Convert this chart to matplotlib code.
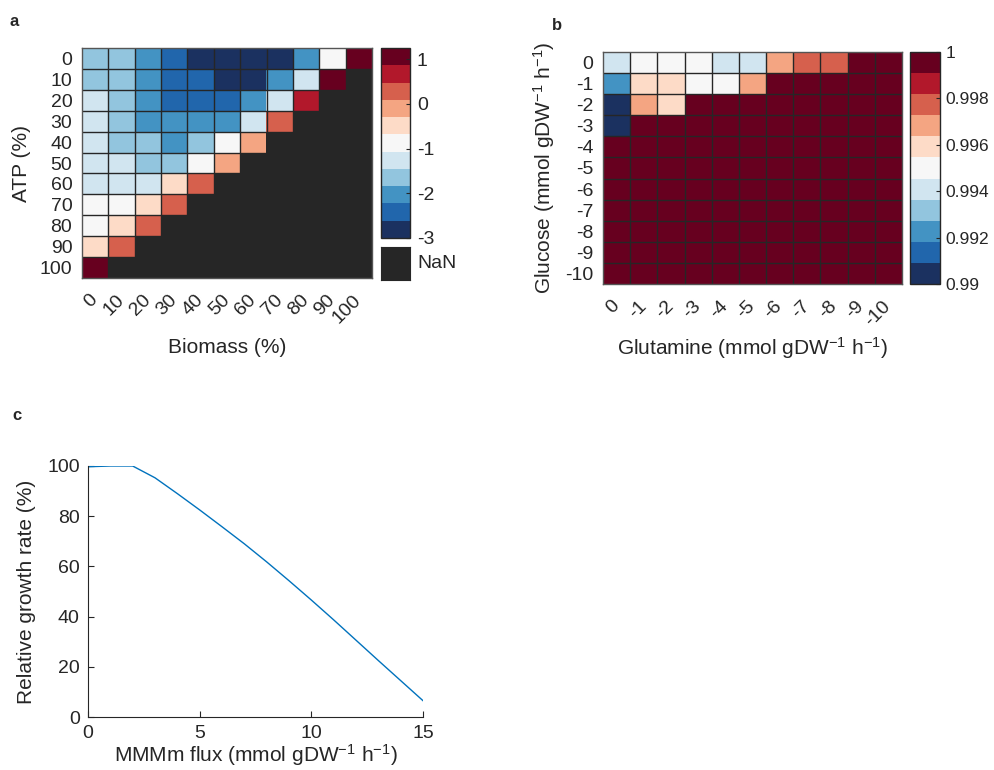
import numpy as np
import matplotlib
matplotlib.use("Agg")
import matplotlib.pyplot as plt
from matplotlib.colors import ListedColormap, Normalize
from matplotlib.cm import ScalarMappable

plt.rcParams['font.family'] = ['Liberation Sans', 'DejaVu Sans']
plt.rcParams['mathtext.fontset'] = 'custom'
plt.rcParams['mathtext.rm'] = 'Liberation Sans'
plt.rcParams['mathtext.it'] = 'Liberation Sans:italic'
plt.rcParams['axes.unicode_minus'] = False

TXT = '#262626'

# ---------------- data ----------------
# Panel a: ATP (rows) x Biomass (cols), NaN where infeasible
biomass_labels = ['0', '10', '20', '30', '40', '50', '60', '70', '80', '90', '100']
atp_labels = ['0', '10', '20', '30', '40', '50', '60', '70', '80', '90', '100']
nan = np.nan
atp_biomass = [
    [-1.6, -1.7, -2.1, -2.4, -2.8, -2.9, -2.9, -2.8, -2.0, -0.9, 1.1],
    [-1.7, -1.7, -2.0, -2.4, -2.5, -2.8, -2.8, -2.1, -1.3, 1.1, nan],
    [-1.2, -1.6, -2.0, -2.4, -2.5, -2.4, -2.0, -1.3, 0.7, nan, nan],
    [-1.2, -1.6, -2.0, -2.1, -2.1, -2.0, -1.2, 0.3, nan, nan, nan],
    [-1.2, -1.6, -1.7, -2.0, -1.7, -0.9, -0.1, nan, nan, nan, nan],
    [-1.2, -1.3, -1.6, -1.7, -0.9, -0.1, nan, nan, nan, nan, nan],
    [-1.2, -1.2, -1.3, -0.5, 0.3, nan, nan, nan, nan, nan, nan],
    [-0.9, -0.9, -0.5, 0.3, nan, nan, nan, nan, nan, nan, nan],
    [-0.9, -0.5, 0.3, nan, nan, nan, nan, nan, nan, nan, nan],
    [-0.5, 0.3, nan, nan, nan, nan, nan, nan, nan, nan, nan],
    [1.1, nan, nan, nan, nan, nan, nan, nan, nan, nan, nan],
]
cbar_a_ticks = [-3, -2, -1, 0, 1]

# Panel b: Glucose (rows) x Glutamine (cols)
glutamine_labels = ['0', '-1', '-2', '-3', '-4', '-5', '-6', '-7', '-8', '-9', '-10']
glucose_labels = ['0', '-1', '-2', '-3', '-4', '-5', '-6', '-7', '-8', '-9', '-10']
glc_gln = [
    [0.9941, 0.9950, 0.9950, 0.9950, 0.9941, 0.9941, 0.9968, 0.9977, 0.9977, 1.0, 1.0],
    [0.9923, 0.9959, 0.9959, 0.9950, 0.9950, 0.9968, 1.0, 1.0, 1.0, 1.0, 1.0],
    [0.9905, 0.9968, 0.9959, 1.0, 1.0, 1.0, 1.0, 1.0, 1.0, 1.0, 1.0],
    [0.9905, 1.0, 1.0, 1.0, 1.0, 1.0, 1.0, 1.0, 1.0, 1.0, 1.0],
    [1.0] * 11,
    [1.0] * 11,
    [1.0] * 11,
    [1.0] * 11,
    [1.0] * 11,
    [1.0] * 11,
    [1.0] * 11,
]
cbar_b_ticks = [0.99, 0.992, 0.994, 0.996, 0.998, 1.0]
cbar_b_labels = ['0.99', '0.992', '0.994', '0.996', '0.998', '1']

# Panel c: growth vs MMMm flux
mmmm_flux = [0, 1, 2, 3, 4, 5, 6, 7, 8, 9, 10, 11, 12, 13, 14, 15]
rel_growth = [99.7, 100, 100, 95.3, 89.0, 82.5, 75.8, 69.0, 61.8, 54.3,
              46.6, 38.7, 30.6, 22.5, 14.5, 6.5]

# ---------------- style ----------------
rdbu11 = ['#1b3160', '#2166ac', '#4393c3', '#92c5de', '#d1e5f0', '#f7f7f7',
          '#fddbc7', '#f4a582', '#d6604d', '#b2182b', '#67001f']
cmap = ListedColormap(rdbu11)
NANC = '#262626'
cmap.set_bad(NANC)

fig = plt.figure(figsize=(9.94, 7.7), dpi=100)
W, H = 994, 770

def axpx(x0, y0, x1, y1):
    return fig.add_axes([x0 / W, 1 - y1 / H, (x1 - x0) / W, (y1 - y0) / H])

def heatmap(ax, data, norm, xl, yl):
    arr = np.ma.masked_invalid(np.array(data, dtype=float))
    nr, nc = arr.shape
    ax.imshow(arr, cmap=cmap, norm=norm, interpolation='nearest', aspect='auto',
              extent=(0, nc, nr, 0))
    for k in range(1, nc):
        ax.axvline(k, color=NANC, linewidth=1.0, snap=True)
    for k in range(1, nr):
        ax.axhline(k, color=NANC, linewidth=1.0, snap=True)
    ax.set_xlim(0, nc)
    ax.set_ylim(nr, 0)
    ax.set_xticks(np.arange(nc) + 0.5)
    ax.set_yticks(np.arange(nr) + 0.5)
    ax.set_xticklabels(xl, rotation=45, ha='right', va='center',
                       rotation_mode='anchor', fontsize=14, color=TXT)
    ax.set_yticklabels(yl, fontsize=14, color=TXT)
    ax.tick_params(length=0, pad=7)
    ax.tick_params(axis='x', pad=14)
    for s in ax.spines.values():
        s.set_color('#555555')
        s.set_linewidth(1.0)

# ---- panel a ----
axa = axpx(82, 48, 372, 278)
norm_a = Normalize(-3, 1.25)
heatmap(axa, atp_biomass, norm_a, biomass_labels, atp_labels)
axa.set_xlabel('Biomass (%)', fontsize=15, color=TXT, labelpad=8)
axa.set_ylabel('ATP (%)', fontsize=15, color=TXT, labelpad=6)

caxa = axpx(381, 48, 410, 238)
cba = fig.colorbar(ScalarMappable(norm=norm_a, cmap=cmap), cax=caxa)
cba.set_ticks(cbar_a_ticks)
cba.set_ticklabels([str(t) for t in cbar_a_ticks])
caxa.tick_params(direction='in', length=3, width=0.8, labelsize=14,
                 labelcolor=TXT, color=TXT, pad=5)
cba.outline.set_edgecolor(TXT)
cba.outline.set_linewidth(1.0)

nanax = axpx(381, 247, 410, 280)
nanax.set_facecolor(NANC)
nanax.set_xticks([])
nanax.set_yticks([])
for s in nanax.spines.values():
    s.set_color(TXT)
nanax.text(1.25, 0.5, 'NaN', transform=nanax.transAxes, ha='left', va='center',
           fontsize=14, color=TXT)

# ---- panel b ----
axb = axpx(603, 52, 902, 284)
norm_b = Normalize(0.99, 1.0)
heatmap(axb, glc_gln, norm_b, glutamine_labels, glucose_labels)
axb.set_xlabel('Glutamine (mmol gDW$^{-1}$ h$^{-1}$)', fontsize=15, color=TXT, labelpad=4)
axb.set_ylabel('Glucose (mmol gDW$^{-1}$ h$^{-1}$)', fontsize=15, color=TXT, labelpad=6)

caxb = axpx(910, 52, 940, 284)
cbb = fig.colorbar(ScalarMappable(norm=norm_b, cmap=cmap), cax=caxb)
cbb.set_ticks(cbar_b_ticks)
cbb.set_ticklabels(cbar_b_labels)
caxb.tick_params(direction='in', length=3, width=0.8, labelsize=12.5,
                 labelcolor=TXT, color=TXT, pad=4)
cbb.outline.set_edgecolor(TXT)
cbb.outline.set_linewidth(1.0)

# ---- panel c ----
axc = axpx(88, 466, 423, 717)
axc.plot(mmmm_flux, rel_growth, color='#0072bd', linewidth=1.0)
axc.set_xlim(0, 15)
axc.set_ylim(0, 100)
axc.set_xticks([0, 5, 10, 15])
axc.set_yticks([0, 20, 40, 60, 80, 100])
axc.tick_params(direction='in', length=4, width=0.8, labelsize=14,
                labelcolor=TXT, color=TXT, pad=6)
axc.spines['top'].set_visible(False)
axc.spines['right'].set_visible(False)
for s in ('left', 'bottom'):
    axc.spines[s].set_color(TXT)
    axc.spines[s].set_linewidth(0.8)
axc.set_xlabel('MMMm flux (mmol gDW$^{-1}$ h$^{-1}$)', fontsize=15, color=TXT, labelpad=0)
axc.set_ylabel('Relative growth rate (%)', fontsize=15, color=TXT, labelpad=8)

# panel letters
fig.text(14 / W, 1 - 22 / H, 'a', fontsize=12, fontweight='bold', color=TXT, ha='center', va='center')
fig.text(557 / W, 1 - 25 / H, 'b', fontsize=12, fontweight='bold', color=TXT, ha='center', va='center')
fig.text(17 / W, 1 - 415 / H, 'c', fontsize=12, fontweight='bold', color=TXT, ha='center', va='center')

fig.savefig('out.png', dpi=100, facecolor='white')
